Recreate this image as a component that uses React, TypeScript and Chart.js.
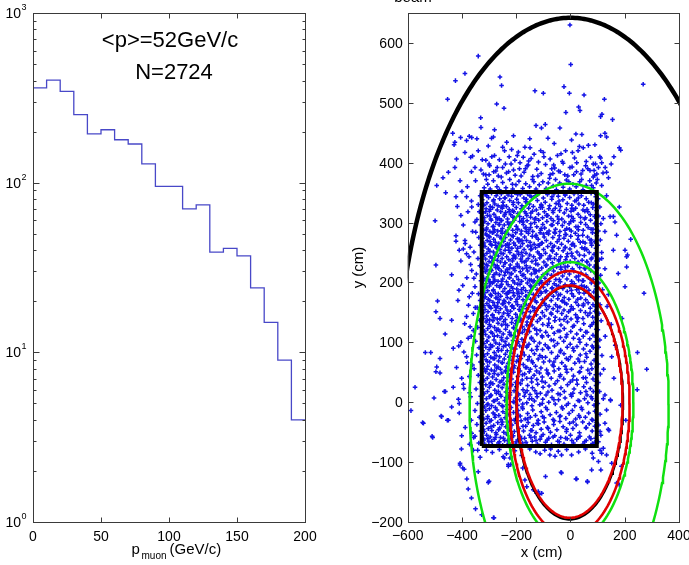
import React, { useEffect, useRef } from 'react';
import { Chart, registerables } from 'chart.js';
Chart.register(...registerables);

const FONT = '"Liberation Sans", Arial, Helvetica, sans-serif';
const AXIS = '#3a3a3a';

// ---------- left panel: muon momentum histogram ----------
const binEdges = [0, 10, 20, 30, 40, 50, 60, 70, 80, 90, 100, 110, 120, 130, 140, 150, 160, 170, 180, 190, 200];
const binCounts = [362, 402, 345, 252, 194, 205, 179, 169, 129, 95, 95, 70, 74, 39, 41, 37, 24, 15, 9, 4];
const histXTicks = [0, 50, 100, 150, 200];
const histYTicks = [1, 10, 100, 1000];
const histYExponents = ['0', '1', '2', '3'];
const histNotes = ['<p>=52GeV/c', 'N=2724'];

// ---------- right panel: hit positions (cm) ----------
const posXTicks = [-600, -400, -200, 0, 200, 400];
const posYTicks = [-200, -100, 0, 100, 200, 300, 400, 500, 600];
const boxRect = [-327, -73, 97, 351]; // x0, y0, x1, y1
const beamArc = [0, 0, 642, 642]; // cx, cy, rx, ry (upper half)
const greenOuter = [-5, -3, 367, 368];
const greenInner = [-2, 0, 234, 234];
const redOuter = [-3, -2, 221, 221];
const redInner = [-3, 1, 195, 194];
const blackInner = [-3, -1, 197, 195];

const pointsBoxLow = [
-322,-60,-316,-70,-309,-55,-301,-66,-296,-58,-288,-71,-280,-62,-273,-54,-266,-68,-258,-59,-250,-72,-243,-64,-236,-53,-228,-69,-219,-61,-211,-56,-203,-70,-195,-63,-186,-57,-177,-68,-169,-60,-160,-72,-151,-55,-141,-65,-132,-58,-122,-70,-112,-62,-101,-54,-92,-67,-80,-60,-70,-71,-58,-56,-47,-65,-36,-59,-24,-70,-12,-61,0,-55,11,-68,23,-62,35,-57,46,-70,58,-64,70,-58,81,-69,92,-60,
-324,-40,-318,-49,-311,-35,-303,-44,-297,-32,-290,-47,-283,-39,-275,-51,-268,-34,-261,-43,-253,-37,-246,-50,-238,-41,-231,-33,-224,-46,-216,-38,-207,-49,-199,-35,-190,-44,-182,-31,-173,-48,-165,-40,-156,-34,-146,-47,-137,-39,-127,-51,-118,-36,-108,-45,-97,-33,-85,-42,-74,-50,-62,-37,-50,-46,-39,-32,-27,-41,-15,-49,-3,-35,9,-44,21,-38,33,-51,45,-33,57,-43,69,-36,80,-48,90,-40,96,-34,
-325,-20,-319,-28,-312,-14,-305,-24,-299,-11,-292,-30,-285,-18,-278,-25,-271,-13,-264,-22,-256,-29,-249,-16,-241,-26,-234,-12,-226,-21,-218,-30,-210,-17,-202,-27,-193,-14,-185,-23,-176,-11,-167,-28,-158,-19,-148,-25,-139,-13,-129,-22,-119,-30,-108,-16,-97,-26,-86,-12,-75,-21,-64,-29,-52,-17,-40,-24,-29,-11,-17,-27,-5,-19,7,-14,19,-28,31,-22,43,-12,55,-25,67,-18,79,-29,90,-15,
-323,0,-317,-8,-310,6,-304,-3,-298,9,-291,-6,-284,2,-277,-9,-270,5,-263,-2,-256,10,-249,-7,-242,3,-234,-4,-227,8,-219,-9,-211,1,-203,7,-195,-5,-187,4,-178,-8,-170,10,-161,-1,-152,6,-142,-6,-133,2,-123,9,-113,-4,-102,5,-91,-9,-80,0,-68,8,-56,-3,-44,4,-32,-8,-20,7,-8,-2,4,10,16,-6,28,3,40,-9,52,6,64,-1,76,9,87,-5,95,2,
-324,22,-318,14,-312,29,-306,18,-299,25,-293,12,-286,31,-279,20,-273,15,-266,27,-259,13,-252,24,-245,30,-238,17,-231,23,-223,12,-216,29,-208,19,-200,26,-192,14,-184,31,-175,21,-167,16,-158,28,-149,13,-140,24,-131,19,-121,30,-111,15,-101,25,-90,12,-79,27,-68,20,-57,31,-46,14,-35,24,-23,18,-11,29,1,13,13,22,25,30,37,16,49,26,61,12,73,23,84,18,94,28,
-325,44,-319,36,-313,51,-307,40,-300,47,-294,33,-287,42,-280,52,-274,38,-267,46,-260,34,-253,49,-246,41,-239,53,-232,35,-225,45,-217,39,-210,50,-202,33,-194,43,-186,52,-178,37,-169,47,-161,40,-152,51,-143,34,-134,45,-124,38,-114,49,-104,42,-93,33,-82,47,-71,40,-60,52,-48,36,-37,46,-25,39,-13,50,-1,34,11,44,23,37,35,51,47,41,59,33,71,48,83,39,93,46,
-323,64,-317,56,-311,71,-305,60,-298,67,-292,54,-285,73,-279,62,-272,57,-265,69,-258,55,-251,66,-244,72,-237,59,-230,65,-222,54,-215,70,-207,61,-199,68,-191,56,-183,73,-174,63,-166,58,-157,71,-148,55,-139,66,-129,60,-119,72,-109,57,-99,67,-88,54,-77,69,-66,62,-55,73,-43,56,-32,66,-20,60,-8,71,4,55,16,65,28,72,40,58,52,68,64,54,76,64,87,70,96,59,
-324,86,-318,77,-312,92,-306,81,-300,88,-294,75,-287,94,-281,83,-274,78,-268,90,-261,76,-254,87,-247,93,-240,80,-233,86,-226,75,-218,91,-211,82,-203,89,-195,77,-187,94,-178,84,-170,79,-161,92,-152,76,-143,87,-133,81,-123,93,-113,78,-103,88,-92,75,-81,90,-70,83,-59,94,-47,77,-36,87,-24,81,-12,92,0,76,12,86,24,93,36,79,48,89,60,75,72,85,84,91,94,80,
-325,106,-319,98,-313,113,-307,102,-301,109,-295,96,-288,115,-282,104,-275,99,-269,111,-262,97,-255,108,-248,114,-241,101,-234,107,-227,96,-219,112,-212,103,-204,110,-196,98,-188,115,-179,105,-171,100,-162,113,-153,97,-144,108,-134,102,-124,114,-114,99,-104,109,-93,96,-82,111,-71,104,-60,115,-48,98,-37,108,-25,102,-13,113,-1,97,11,107,23,114,35,100,47,110,59,96,71,106,83,112,93,101,
-323,127,-317,119,-311,134,-305,123,-299,130,-293,117,-286,136,-280,125,-273,120,-267,132,-260,118,-253,129,-246,135,-239,122,-232,128,-225,117,-217,133,-210,124,-202,131,-194,119,-186,136,-177,126,-169,121,-160,134,-151,118,-142,129,-132,123,-122,135,-112,120,-102,130,-91,117,-80,132,-69,125,-58,136,-46,119,-35,129,-23,123,-11,134,1,118,13,128,25,135,37,121,49,131,61,117,73,127,85,133,95,122,
];

const pointsBoxHigh = [
-325,148,-320,140,-315,155,-309,144,-304,151,-298,138,-293,157,-287,146,-282,141,-276,153,-270,139,-264,150,-258,156,-252,143,-246,149,-240,138,-234,154,-228,145,-221,152,-215,140,-209,157,-202,147,-196,142,-189,155,-183,139,-176,150,-169,144,-162,156,-155,141,-148,151,-141,138,-134,153,-126,146,-119,157,-111,140,-104,150,-96,144,-88,155,-80,139,-72,149,-64,156,-56,142,-48,152,-40,138,-32,148,-24,154,-15,143,-7,151,2,139,10,156,19,146,28,141,37,153,46,140,55,150,64,145,73,157,82,142,90,152,96,139,
-324,169,-319,161,-314,176,-308,165,-303,172,-297,159,-292,178,-286,167,-281,162,-275,174,-269,160,-263,171,-257,177,-251,164,-245,170,-239,159,-233,175,-227,166,-220,173,-214,161,-208,178,-201,168,-195,163,-188,176,-182,160,-175,171,-168,165,-161,177,-154,162,-147,172,-140,159,-133,174,-125,167,-118,178,-110,161,-103,171,-95,165,-87,176,-79,160,-71,170,-63,177,-55,163,-47,173,-39,159,-31,169,-23,175,-14,164,-6,172,3,160,11,177,20,167,29,162,38,174,47,161,56,171,65,166,74,178,83,163,91,173,97,160,
-322,190,-316,183,-312,198,-305,186,-299,194,-295,180,-288,199,-284,188,-277,182,-272,195,-266,181,-261,192,-254,197,-249,185,-242,190,-237,181,-230,196,-224,186,-218,193,-211,183,-206,199,-198,189,-193,184,-186,197,-179,182,-173,191,-165,186,-159,199,-151,183,-145,193,-137,180,-130,195,-123,188,-115,198,-108,182,-100,192,-93,185,-85,197,-76,181,-69,190,-60,198,-53,184,-44,194,-37,180,-28,190,-20,196,-12,185,-3,193,5,181,14,198,23,188,32,183,41,195,50,182,59,192,68,187,77,199,86,184,94,194,
-326,211,-321,203,-314,218,-310,207,-302,214,-297,201,-291,220,-285,209,-279,204,-274,216,-267,202,-262,213,-255,219,-250,206,-243,212,-236,201,-231,217,-225,208,-217,215,-212,203,-205,220,-199,210,-192,205,-185,218,-180,202,-172,213,-166,207,-158,219,-152,204,-144,214,-138,201,-131,216,-122,209,-116,220,-109,203,-101,213,-94,207,-86,218,-78,202,-70,212,-62,219,-54,205,-46,215,-38,201,-29,211,-21,217,-13,206,-4,214,4,202,12,219,21,209,30,204,39,216,48,203,57,213,66,208,75,220,84,205,92,215,98,210,
-323,232,-317,224,-313,239,-306,228,-300,235,-294,222,-289,241,-282,230,-276,225,-270,237,-265,223,-258,234,-252,240,-247,227,-240,233,-234,222,-227,238,-222,229,-214,236,-208,224,-203,241,-196,231,-189,226,-183,239,-176,223,-170,234,-163,228,-156,240,-149,225,-142,235,-135,222,-128,237,-120,230,-113,241,-106,224,-98,234,-91,228,-83,239,-75,223,-67,233,-59,240,-51,226,-43,236,-35,222,-26,232,-18,238,-10,227,-1,235,7,223,16,240,25,230,34,225,43,237,52,224,61,234,70,229,79,241,88,226,95,236,
-325,253,-318,245,-315,260,-308,249,-303,256,-296,243,-290,262,-284,251,-278,246,-273,258,-266,244,-260,255,-253,261,-248,248,-241,254,-235,243,-229,259,-223,250,-216,257,-210,245,-204,262,-197,252,-191,247,-184,260,-177,244,-171,255,-164,249,-157,261,-150,246,-143,256,-136,243,-129,258,-121,251,-114,262,-107,245,-99,255,-92,249,-84,260,-76,244,-68,254,-60,261,-52,247,-44,257,-36,243,-27,253,-19,259,-11,248,-2,256,6,244,15,261,24,251,33,246,42,258,51,245,60,255,69,250,78,262,87,247,94,257,
-324,274,-319,266,-312,281,-307,270,-301,277,-295,264,-288,283,-283,272,-277,267,-271,279,-264,265,-259,276,-252,282,-246,269,-240,275,-233,264,-228,280,-221,271,-215,278,-209,266,-202,283,-196,273,-190,268,-182,281,-176,265,-169,276,-162,270,-155,282,-149,267,-141,277,-134,264,-127,279,-119,272,-112,283,-104,266,-97,276,-89,270,-81,281,-73,265,-65,275,-57,282,-49,268,-41,278,-33,264,-24,274,-16,280,-8,269,1,277,9,265,18,282,27,272,36,267,45,279,54,266,63,276,72,271,81,283,90,268,97,278,
-326,295,-320,287,-316,302,-309,291,-304,298,-297,285,-292,304,-286,293,-280,288,-275,300,-268,286,-263,297,-256,303,-251,290,-244,296,-238,285,-232,301,-226,292,-219,299,-213,287,-207,304,-200,294,-194,289,-187,302,-181,286,-174,297,-167,291,-160,303,-153,288,-146,298,-139,285,-132,300,-124,293,-117,304,-110,287,-102,297,-95,291,-87,302,-79,286,-71,296,-63,303,-55,289,-47,299,-39,285,-30,295,-22,301,-14,290,-5,298,3,286,11,303,20,293,29,288,38,300,47,287,56,297,65,292,74,304,83,289,91,299,97,294,
-323,316,-318,308,-311,323,-306,312,-299,319,-294,306,-287,325,-282,314,-275,309,-270,321,-263,307,-257,318,-251,324,-244,311,-239,317,-232,306,-226,322,-220,313,-213,320,-207,308,-200,325,-194,315,-187,310,-181,323,-174,307,-168,318,-161,312,-154,324,-147,309,-140,319,-133,306,-126,321,-118,314,-111,325,-103,308,-96,318,-88,312,-80,323,-72,307,-64,317,-56,324,-48,310,-40,320,-32,306,-23,316,-15,322,-7,311,2,319,10,307,19,324,28,314,37,309,46,321,55,308,64,318,73,313,82,325,89,310,96,320,
-325,338,-319,329,-314,347,-308,333,-302,342,-296,327,-291,349,-285,336,-279,331,-274,345,-267,328,-261,340,-255,348,-249,334,-243,341,-236,327,-230,346,-224,337,-217,344,-211,330,-205,350,-198,339,-192,333,-185,347,-179,328,-172,341,-165,335,-158,348,-151,331,-144,343,-137,327,-130,345,-122,337,-115,349,-108,330,-100,341,-93,334,-85,347,-77,328,-69,339,-61,348,-53,332,-45,344,-37,327,-28,338,-20,346,-12,332,-3,342,5,329,13,348,22,337,31,331,40,345,49,329,58,340,67,334,76,349,85,331,93,343,
];

const pointsBoxExtra = [
-319,-63,-305,-61,-291,-65,-277,-59,-262,-66,-247,-60,-232,-64,-215,-58,-199,-66,-181,-61,-164,-67,-146,-59,-127,-64,-107,-57,-86,-63,-64,-58,-41,-66,-18,-60,5,-64,29,-59,52,-66,75,-61,90,-67,
-321,-45,-306,-27,-293,-41,-279,-21,-265,-46,-251,-33,-237,-19,-222,-43,-207,-30,-191,-22,-175,-40,-159,-28,-142,-47,-123,-35,-103,-24,-82,-44,-60,-31,-37,-23,-14,-45,10,-33,34,-25,58,-42,82,-30,
-320,15,-307,-4,-294,11,-280,2,-266,18,-252,-6,-238,8,-223,16,-208,0,-192,12,-176,-3,-160,19,-143,6,-124,14,-104,-2,-83,17,-61,4,-38,13,-15,-5,9,15,33,2,57,18,80,6,
-322,38,-308,55,-295,31,-281,48,-267,59,-253,36,-239,51,-224,42,-209,57,-193,33,-177,46,-161,58,-144,40,-125,52,-105,35,-84,49,-62,60,-39,43,-16,55,8,37,32,50,56,41,79,56,93,35,
-321,80,-307,68,-294,92,-280,73,-266,86,-252,66,-238,95,-223,77,-208,89,-192,70,-176,83,-160,94,-143,69,-124,88,-104,75,-83,92,-61,67,-38,84,-15,73,9,90,33,68,57,81,80,94,
-322,118,-308,102,-295,127,-281,110,-267,122,-253,104,-239,130,-224,113,-209,125,-193,101,-177,117,-161,129,-144,106,-125,121,-105,111,-84,128,-62,103,-39,119,-16,109,8,126,32,105,56,117,79,130,94,109,
-321,150,-307,137,-300,161,-288,145,-274,158,-260,139,-246,165,-231,148,-216,160,-200,136,-184,152,-168,163,-151,143,-132,157,-112,140,-92,162,-70,147,-47,159,-24,138,0,154,24,141,48,164,72,149,92,160,
-323,180,-311,192,-298,170,-285,186,-271,175,-257,194,-243,168,-228,183,-213,190,-197,172,-181,188,-165,177,-148,195,-129,169,-109,184,-89,174,-67,191,-44,179,-21,166,3,187,27,172,51,193,75,178,94,189,
-320,206,-308,221,-295,199,-282,213,-268,225,-254,202,-240,217,-225,208,-210,223,-194,197,-178,212,-162,224,-145,204,-126,219,-106,200,-86,214,-64,226,-41,205,-18,220,6,198,30,211,54,223,78,203,95,216,
-322,246,-310,230,-297,252,-284,237,-270,228,-256,249,-242,233,-227,254,-212,240,-196,227,-180,250,-164,236,-147,255,-128,231,-108,245,-88,229,-66,252,-43,238,-20,226,4,249,28,234,52,255,76,239,94,229,
-321,262,-309,279,-296,268,-283,284,-269,258,-255,273,-241,282,-226,264,-211,277,-195,257,-179,270,-163,285,-146,261,-127,276,-107,266,-87,283,-65,259,-42,272,-19,280,5,263,29,278,53,257,77,271,95,282,
-322,300,-310,288,-297,311,-284,294,-270,306,-256,286,-242,314,-227,297,-212,309,-196,289,-180,303,-164,315,-147,292,-128,307,-108,290,-88,312,-66,296,-43,305,-20,287,4,310,28,293,52,306,76,289,94,313,
-321,330,-309,345,-296,322,-283,338,-269,349,-255,326,-241,341,-226,318,-211,334,-195,347,-179,323,-163,339,-146,316,-127,344,-107,328,-87,350,-65,320,-42,336,-19,346,5,324,29,341,53,319,77,333,95,347,
-317,175,-301,205,-289,233,-276,262,-262,297,-248,329,-233,182,-219,214,-205,244,-190,272,-175,301,-160,333,-146,187,-131,219,-116,248,-100,281,-84,312,-68,343,-52,195,-36,226,-20,258,-4,289,12,321,28,349,44,203,60,235,76,266,90,298,
-313,318,-298,276,-283,201,-268,166,-254,304,-239,262,-224,224,-209,318,-194,181,-179,235,-164,292,-149,345,-134,203,-119,262,-104,325,-89,186,-74,240,-59,284,-44,331,-29,169,-14,243,1,302,16,336,31,191,46,268,61,322,86,174,
];

const pointsEdge = [
102,340,108,326,104,311,112,298,103,286,110,271,101,262,115,250,106,238,103,224,111,212,104,199,118,188,102,176,109,163,105,148,113,136,101,121,108,104,104,92,116,78,102,64,110,47,103,33,107,18,101,-2,109,-20,104,-38,112,-55,103,-66,
-333,345,-340,330,-336,318,-345,305,-331,296,-349,284,-338,275,-332,262,-356,251,-341,240,-334,228,-347,214,-330,203,-352,193,-339,181,-333,170,-344,158,-358,148,-335,137,-342,125,-331,114,-350,102,-337,91,-346,79,-332,67,-355,56,-340,45,-334,33,-348,22,-331,10,-343,-2,-352,-14,-336,-25,-345,-37,-330,-48,-357,-59,-338,-68,-342,-80,-333,-92,
-310,-80,-288,-84,-262,-79,-236,-86,-205,-81,-180,-89,-150,-78,-128,-83,-95,-80,-14,-79,30,-83,55,-78,80,-85,
];

const pointsAbove = [
-318,358,-305,364,-296,356,-284,370,-271,360,-262,355,-250,367,-238,358,-224,372,-213,356,-201,363,-190,369,-176,357,-165,365,-151,360,-140,372,-127,356,-115,363,-102,368,-90,357,-77,374,-64,361,-52,355,-40,366,-27,359,-15,371,-3,356,9,364,21,360,34,368,46,355,58,362,71,370,84,358,95,366,
-330,388,-312,380,-298,395,-283,385,-266,378,-250,392,-236,383,-219,398,-204,379,-188,390,-171,384,-156,396,-139,377,-124,389,-108,382,-92,397,-75,380,-58,391,-44,386,-27,399,-10,378,6,393,22,385,39,381,56,395,72,387,89,379,103,392,120,383,
-2,630,1,564,-340,578,-389,549,-424,537,-453,506,-260,543,-254,529,268,531,-24,527,-4,516,-100,516,-131,520,50,513,-245,491,-272,498,30,493,35,487,125,506,116,481,111,477,155,472,-17,484,-331,475,-434,449,-426,434,-429,430,-405,442,-383,437,-373,444,-364,442,-389,417,-361,411,-368,409,-330,459,-291,441,-284,443,-303,428,-300,398,-250,426,-235,434,-127,462,-107,458,-93,464,-100,417,-83,441,-39,458,4,438,7,417,33,427,47,425,66,429,42,447,74,409,111,445,127,449,133,443,180,425,185,421,128,392,133,384,-217,422,-174,409,-134,414,-168,426,-321,381,-352,392,-407,370,-426,392,-420,406,-493,362,-186,400,-154,403,-2,392,23,400,45,387,84,376,97,381,
-280,412,-262,405,-240,398,-226,410,-205,404,-192,418,-160,395,-145,407,-118,401,-110,420,-75,406,-62,396,-48,412,-30,402,-18,420,15,408,58,402,92,398,108,410,-312,404,-340,420,-300,380,-275,386,-210,388,-65,382,-38,385,140,375,150,398,-450,384,-470,375,-400,352,-380,360,-460,350,
-325,405,-310,372,-290,410,-270,392,-255,376,-243,420,-228,385,-214,364,-196,412,-182,378,-166,390,-149,425,-135,368,-120,378,-98,410,-82,366,-69,390,-55,372,-35,415,-21,380,-6,368,12,380,28,420,41,372,64,390,78,362,99,372,115,400,-350,370,-365,385,-345,440,-280,455,-210,445,-150,440,-60,432,20,448,90,430,160,410,
];

const pointsLeft = [
-422,343,-383,343,-417,327,-404,312,-499,303,-364,326,-352,301,-422,278,-422,269,-389,270,-370,259,-410,254,-395,256,-383,248,-374,243,-496,229,-438,213,-364,220,-356,207,-411,187,-373,176,-351,158,-490,169,-496,151,-481,140,-438,137,-383,143,-462,114,-370,126,-358,120,-377,107,-432,90,-412,94,-393,84,-535,83,-515,83,-481,73,-493,59,-383,76,-481,49,-496,51,-401,40,-373,43,-573,25,-465,18,-432,25,-393,23,-503,7,-413,5,-368,9,-588,-14,-438,-8,-410,-2,-475,-24,-450,-30,-542,-35,-510,-57,-508,-59,-401,-56,-364,-52,-352,-57,-407,-105,-397,-110,-545,-34,-477,-23,-454,-30,-461,18,
-365,336,-378,318,-395,296,-361,285,-388,265,-404,236,-368,230,-382,208,-397,195,-362,182,-415,170,-376,162,-390,131,-366,110,-404,100,-380,66,-420,58,-361,62,-395,30,-372,16,-410,-18,-366,-30,-388,-42,-372,-70,-402,-78,-382,-128,-365,-160,-350,-178,
];

const pointsRight = [
111,408,84,398,87,387,115,362,133,345,180,326,146,310,158,310,121,307,164,301,127,285,170,279,222,272,158,254,201,254,210,246,207,243,115,240,127,223,207,226,176,215,201,193,271,182,247,83,281,55,246,21,152,76,147,4,133,-13,127,12,139,-45,142,-47,115,-85,109,-80,152,-102,188,-107,170,-135,204,-30,185,-5,180,-138,109,-49,127,-35,148,3,121,6,133,-88,121,-77,112,-113,103,-99,84,-93,
135,160,150,130,128,110,165,95,140,180,190,140,122,55,160,40,
];

const pointsBelow = [
78,-113,23,-128,63,-133,-35,-117,-92,-124,-57,-90,-33,-88,4,-88,-76,-88,-112,-86,-106,-152,-119,-149,-303,-134,-284,-193,-327,-188,-229,-107,-248,-91,-223,-93,-340,-116,
-407,-102,-392,-112,-377,-145,-300,-132,-358,-80,-282,-193,-244,-93,-229,-104,-220,-104,-176,-110,-168,-130,-125,-152,-115,-154,-161,-141,-137,-146,-73,-78,-45,-82,-33,-118,20,-128,62,-132,
];

// ---------- helpers ----------
const toXY = (flat: number[]) => {
  const out: { x: number; y: number }[] = [];
  for (let i = 0; i + 1 < flat.length; i += 2) out.push({ x: flat[i], y: flat[i + 1] });
  return out;
};

const ellipsePts = (e: number[], t0 = 0, t1 = 360, n = 240) => {
  const [cx, cy, rx, ry] = e;
  const pts: { x: number; y: number }[] = [];
  for (let i = 0; i <= n; i++) {
    const t = ((t0 + ((t1 - t0) * i) / n) * Math.PI) / 180;
    pts.push({ x: cx + rx * Math.cos(t), y: cy + ry * Math.sin(t) });
  }
  return pts;
};

const rectPts = (r: number[]) => [
  { x: r[0], y: r[1] },
  { x: r[2], y: r[1] },
  { x: r[2], y: r[3] },
  { x: r[0], y: r[3] },
  { x: r[0], y: r[1] },
];

const crisp = (v: number) => Math.round(v) + 0.5;

const lineDs = (data: any[], color: string, width: number, order: number) => ({
  data,
  showLine: true,
  borderColor: color,
  backgroundColor: color,
  borderWidth: width,
  pointRadius: 0,
  pointHoverRadius: 0,
  fill: false,
  tension: 0,
  borderJoinStyle: 'miter',
  clip: 0,
  order,
});

// ---------- decorations (box, inward ticks, labels) ----------
const leftDecor = {
  id: 'leftDecor',
  afterDraw(chart: any) {
    const { ctx, chartArea: ca, scales } = chart;
    const x = scales.x;
    const y = scales.y;
    const L = crisp(ca.left), R = crisp(ca.right), T = crisp(ca.top), B = crisp(ca.bottom);
    ctx.save();
    ctx.strokeStyle = AXIS;
    ctx.lineWidth = 1;
    ctx.strokeRect(L, T, R - L, B - T);
    ctx.beginPath();
    histXTicks.forEach((v) => {
      const px = crisp(x.getPixelForValue(v));
      ctx.moveTo(px, B); ctx.lineTo(px, B - 5);
      ctx.moveTo(px, T); ctx.lineTo(px, T + 5);
    });
    histYTicks.forEach((d, i) => {
      const py = crisp(y.getPixelForValue(d));
      ctx.moveTo(L, py); ctx.lineTo(L + 6, py);
      ctx.moveTo(R, py); ctx.lineTo(R - 6, py);
      if (i < histYTicks.length - 1) {
        for (let m = 2; m <= 9; m++) {
          const pm = crisp(y.getPixelForValue(d * m));
          ctx.moveTo(L, pm); ctx.lineTo(L + 3, pm);
          ctx.moveTo(R, pm); ctx.lineTo(R - 3, pm);
        }
      }
    });
    ctx.stroke();

    ctx.fillStyle = '#000';
    ctx.textBaseline = 'alphabetic';
    ctx.font = `14px ${FONT}`;
    ctx.textAlign = 'center';
    histXTicks.forEach((v) => ctx.fillText(String(v), x.getPixelForValue(v), 541));
    histYTicks.forEach((v, i) => {
      const py = y.getPixelForValue(v);
      ctx.font = `14px ${FONT}`;
      ctx.textAlign = 'right';
      ctx.fillText('10', 21, py + 5);
      ctx.font = `9px ${FONT}`;
      ctx.textAlign = 'left';
      ctx.fillText(histYExponents[i], 21.5, py - 3);
    });

    // x label p_muon (GeV/c)
    ctx.textAlign = 'left';
    ctx.font = `15px ${FONT}`;
    ctx.fillText('p', 131.5, 554);
    ctx.font = `10px ${FONT}`;
    ctx.fillText('muon', 141.5, 559);
    ctx.font = `15px ${FONT}`;
    ctx.fillText('(GeV/c)', 169.5, 554);

    // annotations
    ctx.font = `22px ${FONT}`;
    ctx.textAlign = 'center';
    ctx.fillText(histNotes[0], 170, 47);
    ctx.fillText(histNotes[1], 174, 79);
    ctx.restore();
  },
};

const rightDecor = {
  id: 'rightDecor',
  afterDraw(chart: any) {
    const { ctx, chartArea: ca, scales } = chart;
    const x = scales.x;
    const y = scales.y;
    const L = crisp(ca.left), R = crisp(ca.right), T = crisp(ca.top), B = crisp(ca.bottom);
    ctx.save();
    ctx.strokeStyle = AXIS;
    ctx.lineWidth = 1;
    ctx.strokeRect(L, T, R - L, B - T);
    ctx.beginPath();
    posXTicks.forEach((v) => {
      const px = crisp(x.getPixelForValue(v));
      ctx.moveTo(px, B); ctx.lineTo(px, B - 5);
      ctx.moveTo(px, T); ctx.lineTo(px, T + 5);
    });
    posYTicks.forEach((v) => {
      const py = crisp(y.getPixelForValue(v));
      ctx.moveTo(L, py); ctx.lineTo(L + 5, py);
      ctx.moveTo(R, py); ctx.lineTo(R - 5, py);
    });
    ctx.stroke();

    ctx.fillStyle = '#000';
    ctx.font = `14px ${FONT}`;
    ctx.textBaseline = 'alphabetic';
    ctx.textAlign = 'center';
    const fmt = (v: number) => (v < 0 ? '\u2212' + Math.abs(v) : String(v));
    posXTicks.forEach((v) => ctx.fillText(fmt(v), x.getPixelForValue(v), 540));
    ctx.textAlign = 'right';
    posYTicks.forEach((v) => ctx.fillText(fmt(v), ca.left - 5, y.getPixelForValue(v) + 5));

    ctx.font = `15px ${FONT}`;
    ctx.textAlign = 'center';
    ctx.fillText('x (cm)', 541.7 - 345, 557);
    ctx.save();
    ctx.translate(363 - 345, 267.5);
    ctx.rotate(-Math.PI / 2);
    ctx.fillText('y (cm)', 0, 0);
    ctx.restore();

    // partially visible title fragment at the top edge
    ctx.font = `15px ${FONT}`;
    ctx.fillText('beam', 413 - 345, 1.5);
    ctx.restore();
  },
};

export default function App() {
  const leftRef = useRef<HTMLCanvasElement>(null);
  const rightRef = useRef<HTMLCanvasElement>(null);

  useEffect(() => {
    const histData = binCounts.map((c, i) => ({ x: binEdges[i], y: c }));
    histData.push({ x: binEdges[binEdges.length - 1], y: binCounts[binCounts.length - 1] });

    const c1 = new Chart(leftRef.current as HTMLCanvasElement, {
      type: 'line',
      data: {
        datasets: [
          {
            data: histData,
            borderColor: '#4848c8',
            borderWidth: 1.3,
            stepped: 'before',
            pointRadius: 0,
            fill: false,
            clip: 0,
          } as any,
        ],
      },
      options: {
        animation: false,
        responsive: false,
        devicePixelRatio: 1,
        layout: { padding: { top: 13, right: 40, left: 0, bottom: 0 } },
        plugins: { legend: { display: false }, tooltip: { enabled: false }, title: { display: false } },
        scales: {
          x: {
            type: 'linear', min: 0, max: 200,
            afterFit: (s: any) => { s.height = 43; },
            ticks: { display: false }, grid: { display: false, drawTicks: false }, border: { display: false },
          },
          y: {
            type: 'logarithmic', min: 1, max: 1000,
            afterFit: (s: any) => { s.width = 33; },
            ticks: { display: false }, grid: { display: false, drawTicks: false }, border: { display: false },
          },
        },
      } as any,
      plugins: [leftDecor],
    });

    const scatterPts = toXY([
      ...pointsBoxLow, ...pointsBoxHigh, ...pointsBoxExtra, ...pointsEdge, ...pointsAbove,
      ...pointsLeft, ...pointsRight, ...pointsBelow,
    ]);

    const c2 = new Chart(rightRef.current as HTMLCanvasElement, {
      type: 'scatter',
      data: {
        datasets: [
          lineDs(rectPts(boxRect), '#000000', 4, 0),
          lineDs(ellipsePts(beamArc, 0, 180), '#000000', 4.5, 1),
          lineDs(ellipsePts(redInner), '#e00000', 2.6, 2),
          lineDs(ellipsePts(blackInner), '#000000', 2.2, 3),
          lineDs(ellipsePts(redOuter), '#e00000', 2.6, 4),
          lineDs(ellipsePts(greenInner), '#10e010', 2.5, 5),
          lineDs(ellipsePts(greenOuter), '#10e010', 2.5, 6),
          {
            data: scatterPts,
            pointStyle: 'cross',
            pointRadius: 2.3,
            pointHoverRadius: 2.3,
            pointBorderWidth: 1.5,
            borderWidth: 1.5,
            pointBorderColor: '#1414e6',
            borderColor: '#1414e6',
            backgroundColor: '#1414e6',
            clip: 0,
            order: 10,
          } as any,
        ] as any,
      },
      options: {
        animation: false,
        responsive: false,
        devicePixelRatio: 1,
        layout: { padding: { top: 13, right: 10, left: 0, bottom: 0 } },
        plugins: { legend: { display: false }, tooltip: { enabled: false }, title: { display: false } },
        scales: {
          x: {
            type: 'linear', min: -600, max: 400,
            afterFit: (s: any) => { s.height = 43; },
            ticks: { display: false }, grid: { display: false, drawTicks: false }, border: { display: false },
          },
          y: {
            type: 'linear', min: -200, max: 650,
            afterFit: (s: any) => { s.width = 62.7; },
            ticks: { display: false }, grid: { display: false, drawTicks: false }, border: { display: false },
          },
        },
      } as any,
      plugins: [rightDecor],
    });

    return () => {
      c1.destroy();
      c2.destroy();
    };
  }, []);

  return (
    <div style={{ position: 'absolute', left: 0, top: 0, width: 689, height: 565, background: '#fff', overflow: 'hidden' }}>
      <canvas ref={leftRef} width={345} height={565} style={{ position: 'absolute', left: 0, top: 0, width: 345, height: 565 }} />
      <canvas ref={rightRef} width={344} height={565} style={{ position: 'absolute', left: 345, top: 0, width: 344, height: 565 }} />
    </div>
  );
}
